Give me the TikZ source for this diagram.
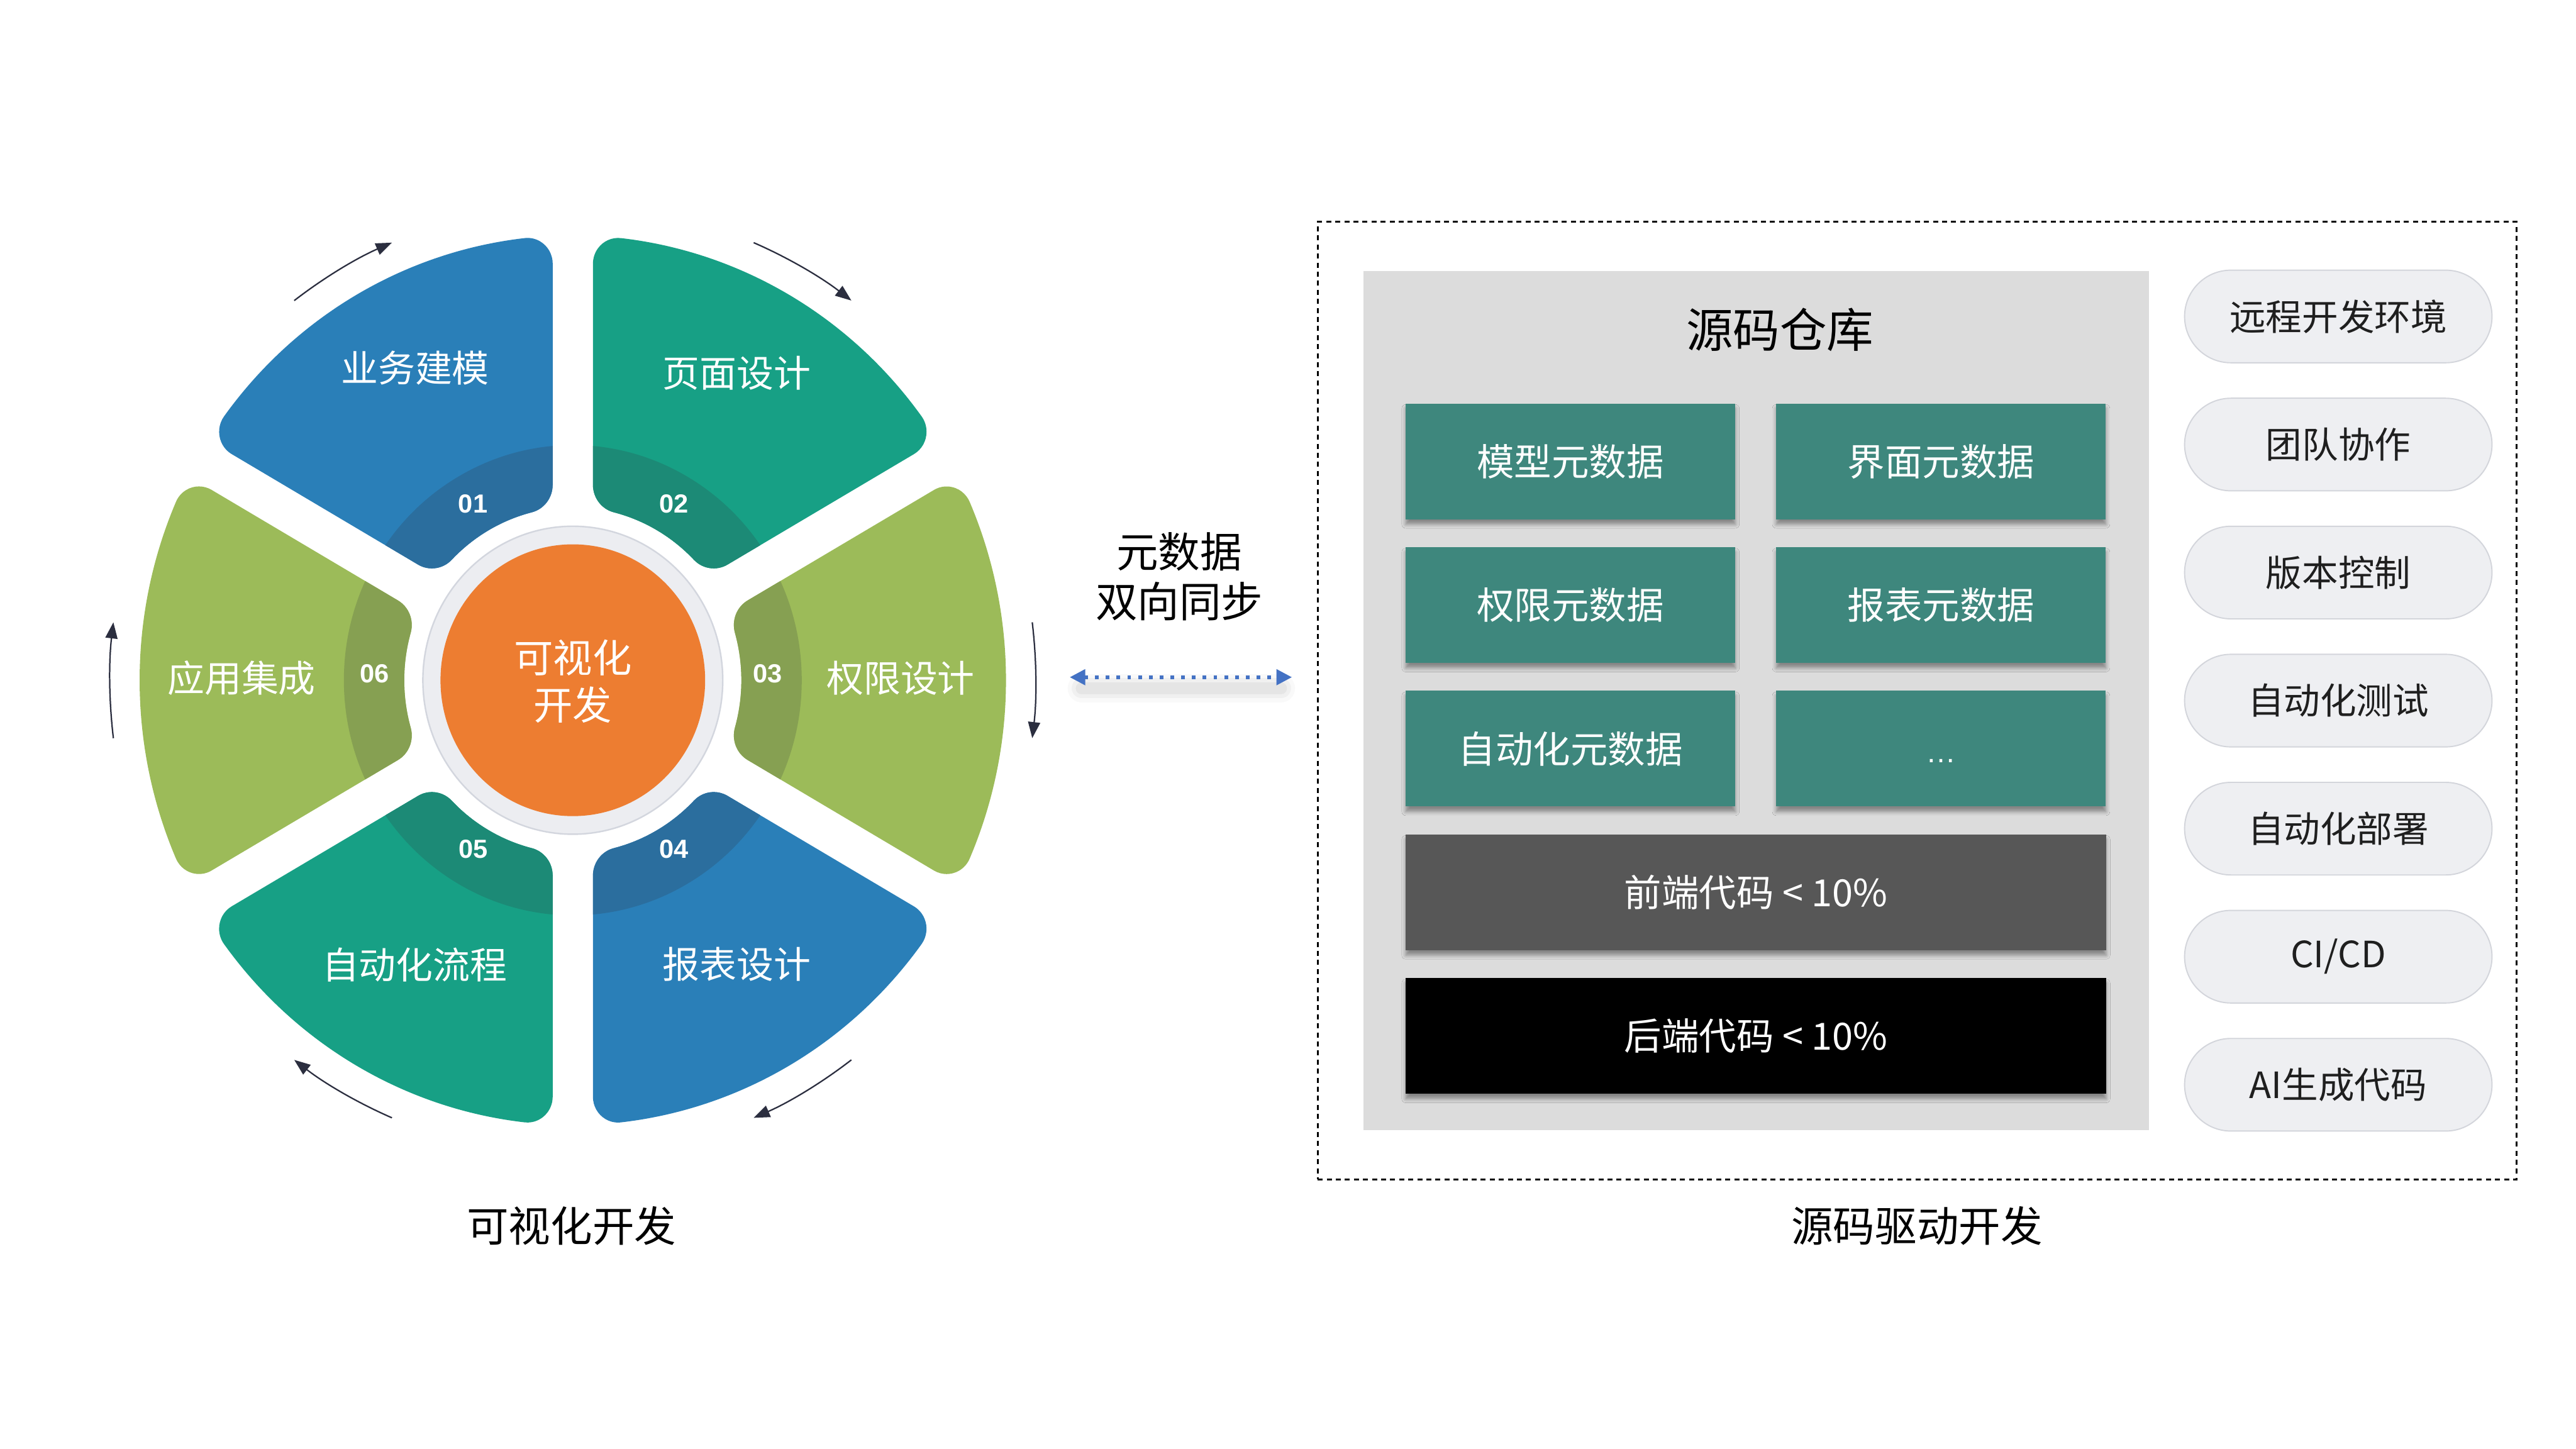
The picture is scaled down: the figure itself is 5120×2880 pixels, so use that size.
\documentclass[tikz,border=0pt]{standalone}
\usepackage{fontspec}
\newfontfamily\cjk{Noto Sans CJK SC}
\newfontfamily\numf{Liberation Sans}
\usetikzlibrary{arrows.meta,shadows.blur}
\definecolor{cblue}{HTML}{2A7FB8}
\definecolor{cblued}{HTML}{2B6E9E}
\definecolor{cteal}{HTML}{17A085}
\definecolor{cteald}{HTML}{1C8A76}
\definecolor{cgreen}{HTML}{9CBB59}
\definecolor{cgreend}{HTML}{86A052}
\definecolor{corange}{HTML}{ED7D31}
\definecolor{cring}{HTML}{ECEDF1}
\definecolor{cringb}{HTML}{D3D6DE}
\definecolor{cbox}{HTML}{3E877D}
\definecolor{cfront}{HTML}{575757}
\definecolor{cpanel}{HTML}{DCDCDC}
\definecolor{cpill}{HTML}{EEEFF2}
\definecolor{cpillb}{HTML}{D3D5DB}
\definecolor{carrow}{HTML}{2B2E3F}
\definecolor{csync}{HTML}{4472C4}
\def\segpath{(788.8,-345.1) arc[start angle=-23.629, end angle=23.629, radius=861] arc[start angle=23.629, end angle=120, radius=50] -- (347.6,154.5) arc[start angle=120, end angle=195.902, radius=55] arc[start angle=15.902, end angle=-15.902, radius=335] arc[start angle=164.098, end angle=240, radius=55] -- (718.0,-368.4) arc[start angle=240, end angle=336.371, radius=50] -- cycle}
\begin{document}
\begin{tikzpicture}[x=0.25pt, y=-0.25pt,
  wlab/.style={text=white, font=\cjk\fontsize{18.4pt}{20pt}\selectfont, inner sep=0pt},
  wnum/.style={text=white, font=\numf\bfseries\fontsize{13pt}{15pt}\selectfont, inner sep=0pt},
  warr/.style={draw=carrow, line width=0.7pt, -{Triangle[length=8pt,width=6pt]}},
  ttl/.style={text=black, font=\cjk\fontsize{20.8pt}{24pt}\selectfont, inner sep=0pt},
  metabox/.style={fill=cbox, minimum width=163.75pt, minimum height=57.5pt, inner sep=0pt, text=white, font=\cjk\fontsize{18.6pt}{20pt}\selectfont, blur shadow={shadow xshift=0pt, shadow yshift=-2.5pt, shadow blur radius=2pt, shadow opacity=40}},
  codebar/.style={metabox, minimum width=348pt},
  pillbox/.style={fill=cpill, draw=cpillb, line width=0.6pt, rounded corners=23pt, minimum width=152.75pt, minimum height=46pt, inner sep=0pt, text=black!88, font=\cjk\fontsize{18pt}{20pt}\selectfont},
]
\useasboundingbox (0,0) rectangle (5120,2880);
\fill[white] (0,0) rectangle (5120,2880);

% ---------- wheel ----------
\begin{scope}[shift={(1138.5,1352)}, yscale=-1.027]
  \foreach \ang/\cl/\cd in {120/cblue/cblued, 60/cteal/cteald, 0/cgreen/cgreend, -60/cblue/cblued, -120/cteal/cteald, 180/cgreen/cgreend} {
    \begin{scope}[rotate=-\ang]
      \fill[\cl] \segpath;
      \begin{scope}
        \clip \segpath;
        \fill[\cd] (0,0) circle[radius=455];
      \end{scope}
    \end{scope}
  }
  \fill[cring, draw=cringb, line width=0.75pt] (0,0) circle[radius=298];
  \fill[corange] (0,0) circle[radius=263];
  \foreach \c in {120,60,0,-60,-120,180} {
    \draw[warr] (\c+7:920) arc[start angle=\c+7, end angle=\c-7, radius=920];
  }
\end{scope}

\node[wlab, align=center, font=\cjk\fontsize{19.5pt}{23.5pt}\selectfont] (core) at (1138.5,1354) {可视化\\开发};
\node[wlab] (s1) at (825,731) {业务建模};
\node[wlab] (s2) at (1464,741) {页面设计};
\node[wlab] (s3) at (1790,1348) {权限设计};
\node[wlab] (s4) at (1464,1917) {报表设计};
\node[wlab] (s5) at (824,1917) {自动化流程};
\node[wlab] (s6) at (480,1348) {应用集成};
\node[wnum] (n1) at (940,1002) {01};
\node[wnum] (n2) at (1339,1002) {02};
\node[wnum] (n3) at (1526,1339) {03};
\node[wnum] (n4) at (1339,1688) {04};
\node[wnum] (n5) at (941,1688) {05};
\node[wnum] (n6) at (745,1339) {06};
\node[ttl] (t1) at (1136,2436) {可视化开发};

% ---------- sync ----------
\node[ttl] (sync1) at (2344,1097) {元数据};
\node[ttl] (sync2) at (2344,1195) {双向同步};
\coordinate (sL) at (2126,1346);
\coordinate (sR) at (2568,1346);
\foreach \w/\o in {14/0.025, 10/0.035, 6/0.045} {
  \draw[line width=\w pt, black, opacity=\o, line cap=round] (2150,1368) -- (2546,1368);
}
\draw[csync, line width=2pt, dash pattern=on 1.85pt off 3.5pt, {Triangle[length=7.75pt,width=7.5pt]}-{Triangle[length=7.75pt,width=7.5pt]}] (sL) -- (sR);

% ---------- right panel ----------
\node[draw=black, line width=1pt, dash pattern=on 2.5pt off 2pt, minimum width=595.75pt, minimum height=475.75pt, inner sep=0pt] (frame) at (3810.5,1392.5) {};
\node[fill=cpanel, minimum width=390.25pt, minimum height=426.75pt, inner sep=0pt] (repo) at (3490.5,1392.5) {};
\node[text=black, font=\cjk\fontsize{23.3pt}{26pt}\selectfont, inner sep=0pt] (repot) at (3538,656) {源码仓库};
\node[metabox] (m1) at (3121.5,917) {模型元数据};
\node[metabox] (m2) at (3858,917) {界面元数据};
\node[metabox] (m3) at (3121.5,1202.5) {权限元数据};
\node[metabox] (m4) at (3858,1202.5) {报表元数据};
\node[metabox] (m5) at (3121.5,1488) {自动化元数据};
\node[metabox] (m6) at (3858,1488) {};
\node[text=white, font=\numf\fontsize{15pt}{17pt}\selectfont, inner sep=0pt] (m6t) at (3858,1513) {…};
\node[codebar, fill=cfront] (fe) at (3490,1773.5) {前端代码 < 10\%};
\node[codebar, fill=black] (be) at (3490,2059) {后端代码 < 10\%};

\node[pillbox] (p1) at (4647.5,629) {远程开发环境};
\node[pillbox] (p2) at (4647.5,883.5) {团队协作};
\node[pillbox] (p3) at (4647.5,1138) {版本控制};
\node[pillbox] (p4) at (4647.5,1392.5) {自动化测试};
\node[pillbox] (p5) at (4647.5,1647) {自动化部署};
\node[pillbox] (p6) at (4647.5,1901.5) {CI/CD};
\node[pillbox] (p7) at (4647.5,2156) {AI生成代码};

\node[ttl] (t2) at (3810,2436) {源码驱动开发};
\end{tikzpicture}
\end{document}
